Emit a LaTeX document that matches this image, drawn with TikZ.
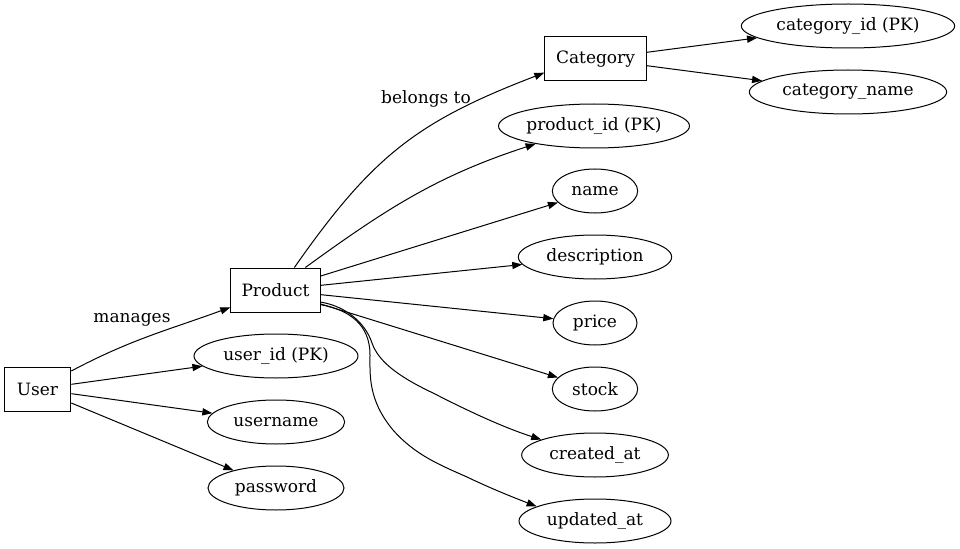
\documentclass[tikz,border=0pt]{standalone}
\usepackage{fontspec}
\setmainfont{DejaVu Serif}
\usetikzlibrary{positioning,arrows.meta,shapes.geometric}

\begin{document}
\begin{tikzpicture}[x=0.75pt,y=-0.75pt,line width=0.75pt,
  >={Triangle[length=7.5pt,width=5.4pt]},
  every node/.style={font=\fontsize{12.75}{15}\selectfont},
  entity/.style={draw,rectangle,minimum height=33pt,inner sep=0pt},
  attr/.style={draw,ellipse,minimum height=33pt,inner sep=0pt},
  lbl/.style={inner sep=1pt}]
  \useasboundingbox (0,0) rectangle (960,549);
  % entities
  \node[entity,minimum width=50pt] (user) at (37.5,389) {User};
  \node[entity,minimum width=67pt] (prod) at (275.5,290) {Product};
  \node[entity,minimum width=76pt] (cat) at (595.5,59) {Category};
  % Category attributes
  \node[attr,minimum width=160pt] (catid) at (848,26) {category\_id (PK)};
  \node[attr,minimum width=148pt] (catname) at (848,92) {category\_name};
  % Product attributes
  \node[attr,minimum width=121pt] (pid) at (594,126) {product\_id (PK)};
  \node[attr,minimum width=64pt] (pname) at (595,191) {name};
  \node[attr,minimum width=115pt] (pdesc) at (595,257) {description};
  \node[attr,minimum width=63pt] (price) at (595,323) {price};
  \node[attr,minimum width=64pt] (stock) at (595,389) {stock};
  \node[attr,minimum width=110pt] (created) at (595,455) {created\_at};
  \node[attr,minimum width=114pt] (updated) at (595,521) {updated\_at};
  % User attributes
  \node[attr,minimum width=123pt] (uid) at (276,356) {user\_id (PK)};
  \node[attr,minimum width=103pt] (uname) at (276,422) {username};
  \node[attr,minimum width=102pt] (upass) at (276,488) {password};
  % relations
  \draw[->] (user.28) to[out=28,in=200] (prod.201);
  \node[lbl] (manages) at (132,320) {manages};
  \draw[->] (prod.50) to[out=55,in=201,looseness=1.1] (cat.195);
  \node[lbl] (belongs) at (426,99) {belongs to};
  % attribute edges
  \draw[->] (user) -- (uid);
  \draw[->] (user) -- (uname);
  \draw[->] (user) -- (upass);
  \draw[->] (cat) -- (catid);
  \draw[->] (cat) -- (catname);
  \draw[->] (prod.37) to[out=36,in=198] (pid.197);
  \draw[->] (prod) -- (pname);
  \draw[->] (prod) -- (pdesc);
  \draw[->] (prod) -- (price);
  \draw[->] (prod) -- (stock);
  \draw[->] (prod.-15) .. controls (345,306) and (365,322) .. (372,343)
    .. controls (378,360) and (395,375) .. (433,393)
    .. controls (470,412) and (505,428) .. (created.164);
  \draw[->] (prod.-18) .. controls (350,310) and (370,325) .. (370,355)
    .. controls (370,375) and (368,400) .. (393,430)
    .. controls (415,455) and (440,465) .. (467,477)
    .. controls (492,489) and (515,498) .. (updated.166);
\end{tikzpicture}
\end{document}
